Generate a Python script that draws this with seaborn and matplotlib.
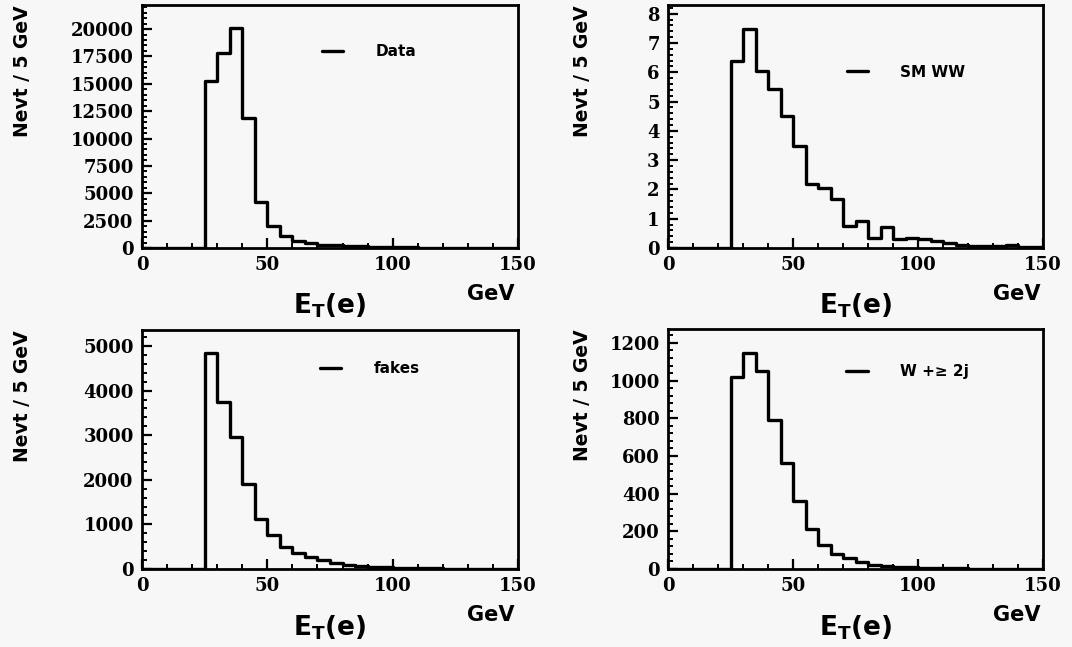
import numpy as np
import pandas as pd
import matplotlib
matplotlib.use("Agg")
import matplotlib.pyplot as plt
from matplotlib.lines import Line2D
from matplotlib.ticker import MultipleLocator, FuncFormatter
import seaborn as sns

# Electron E_T spectra, 5 GeV bins from 25 to 150 GeV
bin_width = 5
et_start = 25
et_stop = 150

data_counts = [15300, 17800, 20100, 11900, 4200, 1980, 1060, 670, 450, 300,
               240, 180, 140, 120, 100, 75, 60, 45, 35, 28, 22, 18, 14, 11, 9]
smww_counts = [6.39, 7.47, 6.06, 5.42, 4.52, 3.47, 2.19, 2.05, 1.67, 0.76,
               0.91, 0.34, 0.72, 0.31, 0.34, 0.30, 0.23, 0.17, 0.09, 0.08,
               0.07, 0.06, 0.09, 0.05, 0.04]
fakes_counts = [4840, 3750, 2970, 1910, 1130, 770, 490, 370, 270, 195,
                135, 85, 60, 45, 35, 28, 22, 17, 13, 10, 8, 6, 5, 4, 3]
wjets_counts = [1020, 1147, 1050, 793, 563, 359, 212, 129, 81, 58,
                35, 23, 14, 10, 8, 6, 5, 4, 3, 2, 2, 1.5, 1, 1, 1]

sample_labels = ["Data", "SM WW", "fakes", "W +\u2265 2j"]
y_major_step = [2500, 1, 1000, 200]
y_top = [22200, 8.3, 5360, 1274]
x_tick_values = [0, 50, 100, 150]
y_title = "Nevt / 5 GeV"
x_title = r"$E_T(e)$"
x_unit = "GeV"

sns.set_theme(style="ticks")
plt.rcParams["font.family"] = ["DejaVu Serif"]
plt.rcParams["font.weight"] = "bold"
plt.rcParams["text.color"] = "black"
plt.rcParams["mathtext.fontset"] = "dejavusans"
plt.rcParams["mathtext.default"] = "bf"

bg = "#f7f7f7"
W, H = 1072, 647
fig = plt.figure(figsize=(W / 100, H / 100), dpi=100, facecolor=bg)

# panel frames in pixels: left, top, right, bottom
frames = [(142, 5, 518, 248), (668, 5, 1043, 248),
          (142, 330, 518, 569), (668, 329, 1043, 569)]
legend_anchor = [(0.479, 0.807), (0.477, 0.724), (0.473, 0.837), (0.475, 0.821)]
ytitle_dx = [-119, -86, -119, -86]

edges = np.arange(0, et_stop + bin_width, bin_width)
centers = edges[:-1] + bin_width / 2
n_empty = int(et_start / bin_width)

series = [data_counts, smww_counts, fakes_counts, wjets_counts]

for i, counts in enumerate(series):
    l, t, r, b = frames[i]
    ax = fig.add_axes([l / W, 1 - b / H, (r - l) / W, (b - t) / H])
    ax.set_facecolor(bg)

    hist_df = pd.DataFrame({
        "et": centers,
        "n": np.concatenate([np.zeros(n_empty), np.asarray(counts, float)]),
    })
    sns.histplot(data=hist_df, x="et", weights="n", binwidth=bin_width,
                 binrange=(0, et_stop), element="step", fill=False,
                 color="black", linewidth=2.4, ax=ax)

    ax.set_xlim(0, et_stop)
    ax.set_ylim(0, y_top[i])
    ax.set_xlabel("")
    ax.set_ylabel("")

    ax.set_xticks(x_tick_values)
    ax.xaxis.set_minor_locator(MultipleLocator(10))
    ax.yaxis.set_major_locator(MultipleLocator(y_major_step[i]))
    ax.yaxis.set_minor_locator(MultipleLocator(y_major_step[i] / 5))
    ax.yaxis.set_major_formatter(FuncFormatter(lambda v, p: f"{v:.0f}"))
    ax.xaxis.set_major_formatter(FuncFormatter(lambda v, p: f"{v:.0f}"))

    ax.tick_params(which="both", direction="in", colors="black",
                   top=False, right=False, labelsize=13, pad=6)
    ax.tick_params(which="major", length=7, width=1.6)
    ax.tick_params(which="minor", length=3.5, width=1.4)

    for side in ["left", "bottom", "top", "right"]:
        ax.spines[side].set_visible(True)
        ax.spines[side].set_color("black")
        ax.spines[side].set_linewidth(2.0)

    handle = Line2D([], [], color="black", linewidth=2.4)
    ax.legend([handle], [sample_labels[i]], loc="center left",
              bbox_to_anchor=legend_anchor[i], frameon=False,
              borderaxespad=0, borderpad=0, handlelength=1.4,
              handletextpad=2.1, labelcolor="black",
              prop={"family": "DejaVu Sans", "weight": "bold", "size": 11})

    ax.annotate(y_title, xy=(0, 1), xycoords="axes fraction",
                xytext=(ytitle_dx[i], 0), textcoords="offset pixels",
                rotation=90, ha="center", va="top", fontsize=13.5,
                fontweight="bold", family="DejaVu Sans", color="black")
    ax.annotate(x_title, xy=(0.5, 0), xycoords="axes fraction",
                xytext=(0, -66), textcoords="offset pixels",
                ha="center", va="baseline", fontsize=19, color="black")
    ax.annotate(x_unit, xy=(1, 0), xycoords="axes fraction",
                xytext=(-3, -52), textcoords="offset pixels",
                ha="right", va="baseline", fontsize=15, fontweight="bold",
                family="DejaVu Sans", color="black")

fig.savefig("out.png", dpi=100, facecolor=bg)
